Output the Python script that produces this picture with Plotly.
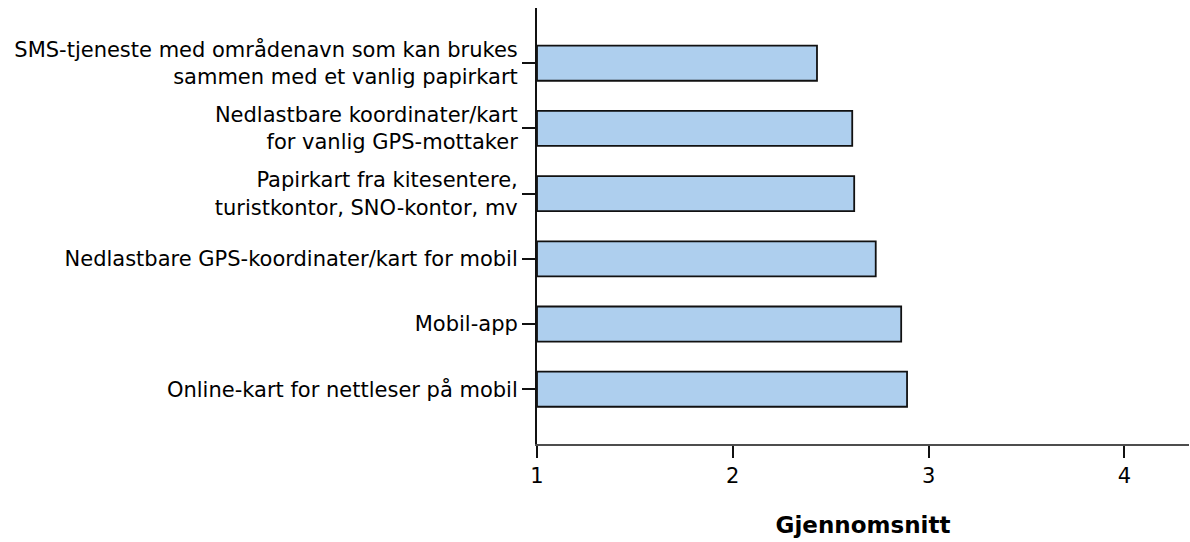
import plotly.graph_objects as go

# Categories listed bottom-to-top (Plotly draws the first category at the bottom)
categories = [
    "Online-kart for nettleser på mobil",
    "Mobil-app",
    "Nedlastbare GPS-koordinater/kart for mobil",
    "Papirkart fra kitesentere,<br>turistkontor, SNO-kontor, mv",
    "Nedlastbare koordinater/kart<br>for vanlig GPS-mottaker",
    "SMS-tjeneste med områdenavn som kan brukes<br>sammen med et vanlig papirkart",
]
means = [2.89, 2.86, 2.73, 2.62, 2.61, 2.43]
x_ticks = [1, 2, 3, 4]
x_title = "Gjennomsnitt"

FONT = "DejaVu Sans"

fig = go.Figure(
    go.Bar(
        y=categories,
        x=[m - 1 for m in means],
        base=1,
        orientation="h",
        width=0.537,
        marker=dict(color="#aecfee", line=dict(color="#111111", width=1.8)),
        hovertemplate="%{y}: %{customdata}<extra></extra>",
        customdata=means,
    )
)

fig.update_layout(
    width=1190,
    height=542,
    margin=dict(l=537, r=1, t=8, b=98),
    paper_bgcolor="white",
    plot_bgcolor="white",
    showlegend=False,
    font=dict(family=FONT, color="black"),
    xaxis=dict(
        range=[1, 4.33],
        tickvals=x_ticks,
        ticktext=[str(v) for v in x_ticks],
        showgrid=False,
        zeroline=False,
        showline=True,
        linecolor="#4d4d4d",
        linewidth=2,
        ticks="outside",
        ticklen=12,
        tickwidth=2,
        tickcolor="#111111",
        tickfont=dict(family=FONT, size=21, color="black"),
        title=dict(
            text="<b>" + x_title + "</b>",
            font=dict(family=FONT, size=23, color="black"),
            standoff=30,
        ),
    ),
    yaxis=dict(
        type="category",
        categoryorder="array",
        categoryarray=categories,
        range=[-0.84, 5.847],
        showgrid=False,
        zeroline=False,
        showline=True,
        linecolor="#111111",
        linewidth=2,
        ticks="outside",
        ticklen=13,
        tickwidth=2,
        tickcolor="#111111",
        ticklabelstandoff=0,
        tickfont=dict(family=FONT, size=21, color="black"),
    ),
)

fig.write_html("out.html")
